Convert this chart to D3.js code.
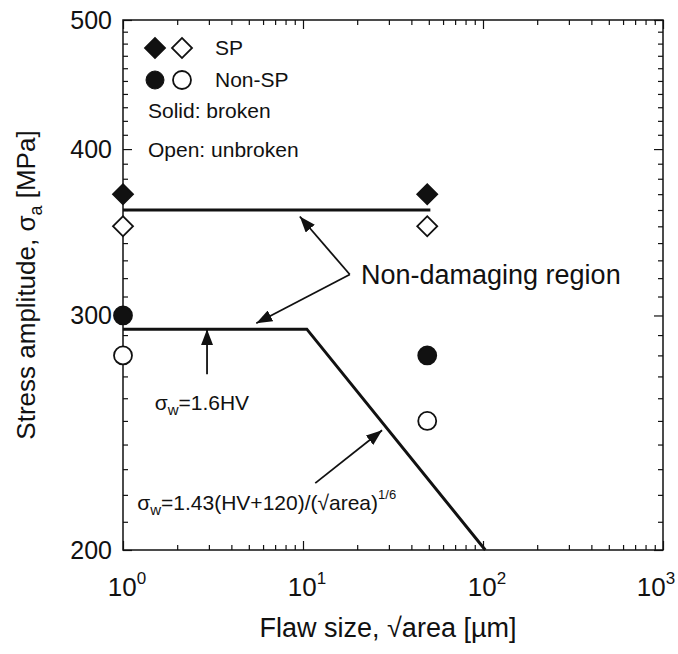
<!DOCTYPE html>
<html>
<head>
<meta charset="utf-8">
<script src="https://cdn.jsdelivr.net/npm/d3@7"></script>
<style>
body { margin: 0; background: #fff; }
text { font-family: "Liberation Sans", Arial, sans-serif; fill: #111; }
</style>
</head>
<body>
<div id="chart"></div>
<script>
var margin = {top: 20, right: 15, bottom: 104, left: 123},
	width = 540,
	height = 530;

// flaw size sqrt(area) [um] vs stress amplitude [MPa]
var pointX = [1, 49];
var spBroken = [370, 370];
var spUnbroken = [350, 350];
var nonSpBroken = [300, 280];
var nonSpUnbroken = [280, 250];
var spLimitX = [1, 51];
var spLimitY = [360, 360];
var limitX = [1, 10.5, 103];
var limitY = [293, 293, 200];
var xExponents = ["0", "1", "2", "3"];
var yTickLabels = [200, 300, 400, 500];
var yMinorTicks = d3.range(200, 501, 10);

var x = d3.scaleLog().domain([1, 1000]).range([0, width]);
var y = d3.scaleLog().domain([200, 500]).range([height, 0]);

var svg = d3.select("#chart")
	.append("svg")
	.attr("width", 678)
	.attr("height", 654)
	.append("g")
	.attr("transform", "translate(" + margin.left + "," + margin.top + ")");

// ticks on all four sides, pointing in
function isMajorX(d) { return Math.abs(Math.log10(d) - Math.round(Math.log10(d))) < 1e-9; }
function isMajorY(d) { return d % 100 === 0; }

function tickAxis(axis, transform, major, sign, attr) {
	var g = svg.append("g")
		.attr("transform", transform)
		.call(axis.tickSizeInner(5).tickSizeOuter(0).tickFormat(""));
	g.select(".domain").remove();
	g.selectAll(".tick line")
		.attr("stroke", "#111")
		.attr("stroke-width", 1.2)
		.attr(attr, function(d) { return sign * (major(d) ? 9 : 5); });
}

tickAxis(d3.axisBottom(x).tickValues(x.ticks()), "translate(0," + height + ")", isMajorX, -1, "y2");
tickAxis(d3.axisTop(x).tickValues(x.ticks()), "translate(0,0)", isMajorX, 1, "y2");
tickAxis(d3.axisLeft(y).tickValues(yMinorTicks), "translate(0,0)", isMajorY, 1, "x2");
tickAxis(d3.axisRight(y).tickValues(yMinorTicks), "translate(" + width + ",0)", isMajorY, -1, "x2");

svg.append("rect")
	.attr("width", width)
	.attr("height", height)
	.attr("fill", "none")
	.attr("stroke", "#111")
	.attr("stroke-width", 1.5);

// tick labels (last one nudged so it stays inside the page)
var xl = svg.selectAll(".xlab")
	.data(xExponents)
	.enter()
	.append("text")
	.attr("class", "xlab")
	.attr("x", function(d, i) { return x(Math.pow(10, +d)) + (i === xExponents.length - 1 ? -7 : 4); })
	.attr("y", height + 46)
	.attr("text-anchor", "middle")
	.style("font-size", "26px");
xl.append("tspan").text("10");
xl.append("tspan").attr("dy", -12).style("font-size", "17px").text(function(d) { return d; });

svg.selectAll(".ylab")
	.data(yTickLabels)
	.enter()
	.append("text")
	.attr("x", -11)
	.attr("y", function(d) { return y(d); })
	.attr("dy", "0.36em")
	.attr("text-anchor", "end")
	.style("font-size", "25px")
	.text(function(d) { return d; });

// axis titles
svg.append("text")
	.attr("x", width / 2 - 5)
	.attr("y", height + 87)
	.attr("text-anchor", "middle")
	.style("font-size", "27px")
	.text("Flaw size, \u221aarea [\u00b5m]");

var yt = svg.append("text")
	.attr("transform", "translate(-88," + (height / 2) + ") rotate(-90)")
	.attr("text-anchor", "middle")
	.style("font-size", "26px");
yt.append("tspan").text("Stress amplitude, \u03c3");
yt.append("tspan").attr("dy", 7).style("font-size", "18px").text("a");
yt.append("tspan").attr("dy", -7).text(" [MPa]");

// limit lines
var line = d3.line()
	.x(function(d) { return x(d[0]); })
	.y(function(d) { return y(d[1]); });

svg.append("path")
	.datum(d3.zip(spLimitX, spLimitY))
	.attr("d", line)
	.attr("fill", "none")
	.attr("stroke", "#111")
	.attr("stroke-width", 3);

svg.append("path")
	.datum(d3.zip(limitX, limitY))
	.attr("d", line)
	.attr("fill", "none")
	.attr("stroke", "#111")
	.attr("stroke-width", 3);

// markers
var diamond = d3.symbol().type(d3.symbolSquare).size(200);

function drawDiamonds(vals, fill) {
	svg.selectAll(null)
		.data(d3.zip(pointX, vals))
		.enter()
		.append("path")
		.attr("d", diamond)
		.attr("transform", function(d) { return "translate(" + x(d[0]) + "," + y(d[1]) + ") rotate(45)"; })
		.attr("fill", fill)
		.attr("stroke", "#111")
		.attr("stroke-width", 1.8);
}

function drawCircles(vals, fill) {
	svg.selectAll(null)
		.data(d3.zip(pointX, vals))
		.enter()
		.append("circle")
		.attr("r", 9)
		.attr("cx", function(d) { return x(d[0]); })
		.attr("cy", function(d) { return y(d[1]); })
		.attr("fill", fill)
		.attr("stroke", "#111")
		.attr("stroke-width", 1.8);
}

drawDiamonds(spBroken, "#111");
drawDiamonds(spUnbroken, "#fff");
drawCircles(nonSpBroken, "#111");
drawCircles(nonSpUnbroken, "#fff");

// legend
var lg = svg.append("g");
lg.append("path").attr("d", diamond).attr("transform", "translate(32,28) rotate(45)").attr("fill", "#111").attr("stroke", "#111").attr("stroke-width", 1.8);
lg.append("path").attr("d", diamond).attr("transform", "translate(59,28) rotate(45)").attr("fill", "#fff").attr("stroke", "#111").attr("stroke-width", 1.8);
lg.append("circle").attr("cx", 32).attr("cy", 60).attr("r", 9).attr("fill", "#111").attr("stroke", "#111");
lg.append("circle").attr("cx", 59).attr("cy", 60).attr("r", 9).attr("fill", "#fff").attr("stroke", "#111").attr("stroke-width", 1.8);
lg.append("text").attr("x", 92).attr("y", 35).style("font-size", "21px").text("SP");
lg.append("text").attr("x", 92).attr("y", 67).style("font-size", "21px").text("Non-SP");
lg.append("text").attr("x", 25).attr("y", 98).style("font-size", "21px").text("Solid: broken");
lg.append("text").attr("x", 25).attr("y", 137).style("font-size", "21px").text("Open: unbroken");

// annotations
svg.append("defs").append("marker")
	.attr("id", "head")
	.attr("markerUnits", "userSpaceOnUse")
	.attr("viewBox", "0 0 16 12")
	.attr("refX", 16)
	.attr("refY", 6)
	.attr("markerWidth", 16)
	.attr("markerHeight", 12)
	.attr("orient", "auto")
	.append("path")
	.attr("d", "M0,0L16,6L0,12Z")
	.attr("fill", "#111");

function arrow(x1, y1, x2, y2) {
	svg.append("line")
		.attr("x1", x(x1)).attr("y1", y(y1))
		.attr("x2", x(x2)).attr("y2", y(y2))
		.attr("stroke", "#111")
		.attr("stroke-width", 1.8)
		.attr("marker-end", "url(#head)");
}

arrow(18.2, 322, 9.6, 356);
arrow(18.2, 322, 5.5, 296);
arrow(2.93, 271, 2.93, 293);
arrow(11.7, 224.5, 27.5, 246);

svg.append("text")
	.attr("x", x(21))
	.attr("y", y(322) + 9)
	.style("font-size", "27px")
	.text("Non-damaging region");

var t1 = svg.append("text")
	.attr("x", x(1.5))
	.attr("y", y(258) + 7)
	.style("font-size", "21px");
t1.append("tspan").text("\u03c3");
t1.append("tspan").attr("dy", 5).style("font-size", "15px").text("w");
t1.append("tspan").attr("dy", -5).text("=1.6HV");

var t2 = svg.append("text")
	.attr("x", x(1.2))
	.attr("y", y(217) + 7)
	.style("font-size", "21px");
t2.append("tspan").text("\u03c3");
t2.append("tspan").attr("dy", 5).style("font-size", "15px").text("w");
t2.append("tspan").attr("dy", -5).text("=1.43(HV+120)/(\u221aarea)");
t2.append("tspan").attr("dy", -11).style("font-size", "13px").text("1/6");
</script>
</body>
</html>
